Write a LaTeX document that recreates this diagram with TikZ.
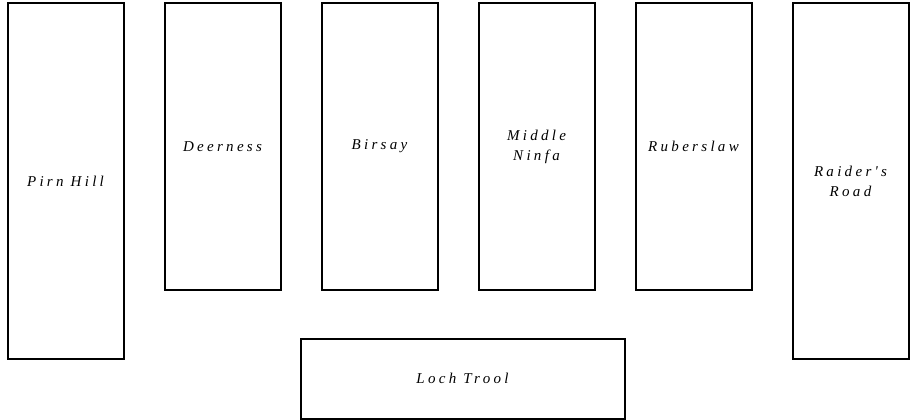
\documentclass[tikz,border=0pt]{standalone}
\usepackage{fontspec}
\setmainfont{Liberation Serif}
\newfontfamily\labelfont[LetterSpace=22]{Liberation Serif}
\begin{document}
\begin{tikzpicture}[x=1pt,y=-1pt,
  area/.style={draw=black, line width=2pt, fill=white, rectangle, inner sep=0pt,
    align=center, font=\labelfont\itshape\fontsize{15}{20}\selectfont},
  tall/.style={area, minimum width=116pt, minimum height=355pt},
  mid/.style={area, minimum width=116pt, minimum height=286pt}]
\useasboundingbox (0,0) rectangle (910,420);
\node[tall] (pirn) at (65.5,181) {Pirn Hill};
\node[mid] (deer) at (222.5,146.5) {Deerness};
\node[mid] (birs) at (379.5,146.5) {Birsay};
\node[mid] (ninfa) at (536.5,146.5) {Middle\\Ninfa};
\node[mid] (ruber) at (693.5,146.5) {Ruberslaw};
\node[tall] (raider) at (850.5,181) {Raider's\\Road};
\node[area, minimum width=324pt, minimum height=80pt] (loch) at (462.5,378.5) {Loch Trool};
\end{tikzpicture}
\end{document}
